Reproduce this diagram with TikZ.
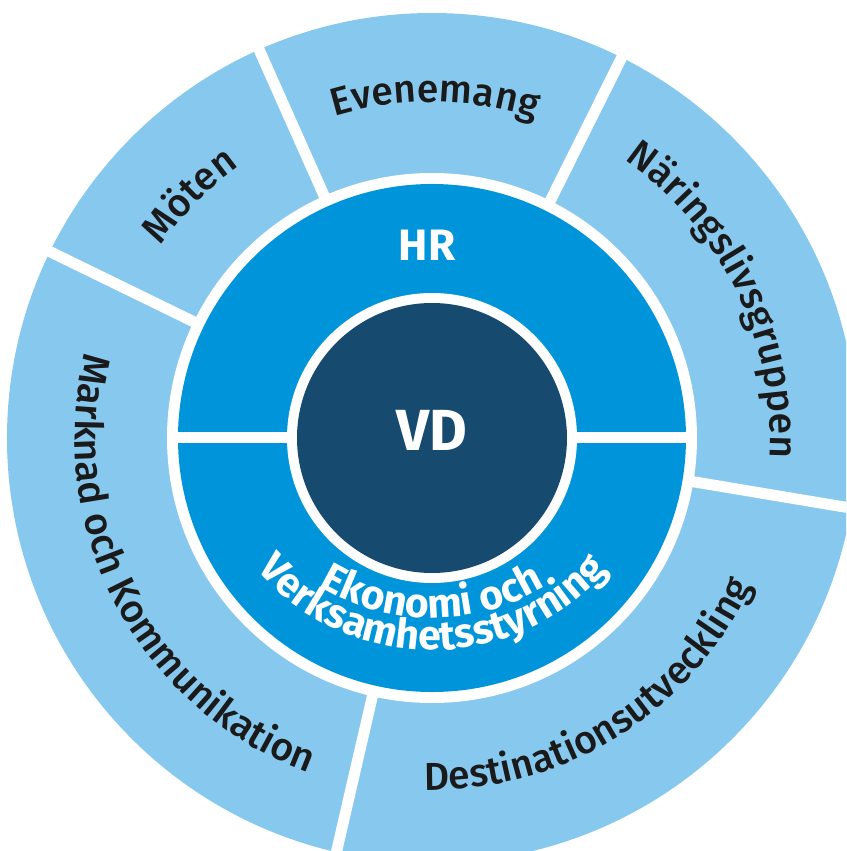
\documentclass[tikz,border=0pt]{standalone}
\usepackage{xcolor}
\usepackage{fontspec}
\setmainfont{Fira Sans}
\newfontfamily\medfont{Fira Sans}[UprightFont={* Medium}]
\usetikzlibrary{decorations.text}
\definecolor{ringlight}{RGB}{135,200,238}
\definecolor{ringmid}{RGB}{0,149,218}
\definecolor{ringdark}{RGB}{22,74,111}
\definecolor{labelink}{RGB}{26,26,26}
\newcommand{\outerfont}{\medfont\fontsize{39pt}{44pt}\selectfont}
\newcommand{\midfont}{\fontsize{41pt}{44pt}\selectfont\bfseries}
\tikzstyle{gap} = [draw=white, line width=11pt]
\tikzstyle{outerlabel} = [decorate, decoration={text along path, text align=center, text color=labelink}]
\tikzstyle{midlabel} = [decorate, decoration={text along path, text align=center, text color=white}]
\tikzstyle{corelabel} = [text=white, font=\fontsize{58pt}{60pt}\selectfont\bfseries, inner sep=0pt]
\tikzstyle{hrlabel} = [text=white, font=\fontsize{44pt}{46pt}\selectfont\bfseries, inner sep=0pt]

\begin{document}
\begin{tikzpicture}
\def \rout{425pt}
\def \rring{265pt}
\def \rmid{254pt}
\def \rcorew{145pt}
\def \rcore{135pt}
\useasboundingbox (-432pt,-413pt) rectangle (414pt,438pt);
\clip (-432pt,-413pt) rectangle (414pt,438pt);

\fill[ringlight] (0,0) circle (\rout);
\foreach \a in {63.5,114,154,257,-9.5}
  \draw[gap] (\a:250pt) -- (\a:440pt);
\fill[white] (0,0) circle (\rring);
\fill[ringmid] (0,0) circle (\rmid);
\draw[gap] (-260pt,0) -- (260pt,0);
\fill[white] (0,0) circle (\rcorew);
\fill[ringdark] (0,0) circle (\rcore);

\node (vd) [corelabel] at (0,8pt) {VD};
\node (hr) [hrlabel] at (-5pt,193pt) {HR};

\path[midlabel, decoration={text={|\midfont|Ekonomi och}}] ([shift={(-155:220pt)}]0,40pt) arc[start angle=-155, end angle=-25, radius=220pt];
\path[midlabel, decoration={text={|\midfont|Verksamhetsstyrning}}] ([shift={(-165:232pt)}]0,20pt) arc[start angle=-165, end angle=-15, radius=232pt];

\path[outerlabel, decoration={text={|\outerfont|Evenemang}}] (149.5:336pt) arc[start angle=149.5, end angle=29.5, radius=336pt];
\path[outerlabel, decoration={text={|\outerfont|Möten}}] (195:333pt) arc[start angle=195, end angle=75, radius=333pt];
\path[outerlabel, decoration={text={|\outerfont|Näringslivsgruppen}}] (86:338pt) arc[start angle=86, end angle=-34, radius=338pt];
\path[outerlabel, decoration={text={|\outerfont|Marknad och Kommunikation}}] (138:357pt) arc[start angle=138, end angle=278, radius=357pt];
\path[outerlabel, decoration={text={|\outerfont|Destinationsutveckling}}] (-128:352pt) arc[start angle=-128, end angle=12, radius=352pt];
\end{tikzpicture}
\end{document}
